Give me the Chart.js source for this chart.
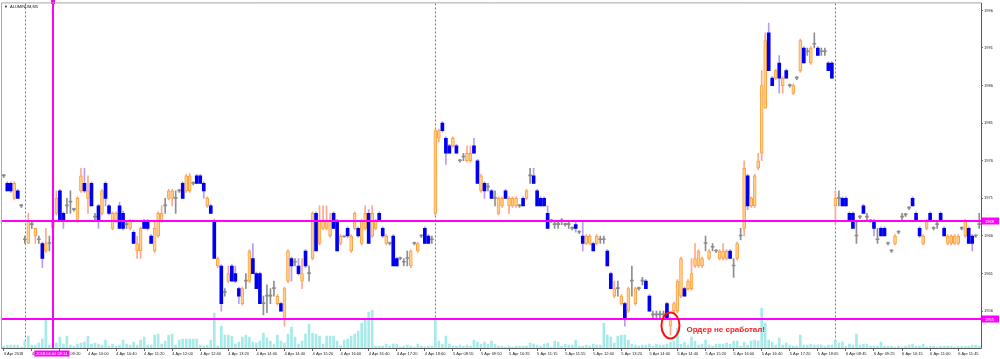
<!DOCTYPE html>
<html>
<head>
<meta charset="utf-8">
<title>ALUMINUM,M5</title>
<script src="https://cdn.jsdelivr.net/npm/chart.js@4/dist/chart.umd.min.js"></script>
<style>
  html, body { margin: 0; padding: 0; background: #fff; }
  #wrap { width: 1000px; height: 359px; position: relative; }
</style>
</head>
<body>
<div id="wrap"><canvas id="chart"></canvas></div>
<script>
// M5 candles (one entry per bar)
const opens = [
  1974, 1973, 1973, 1971, 1972, 1970, 1965.5, 1965, 1967.5, 1966,
  1965.5, 1965, 1964, 1965, 1967, 1969, 1972, 1969, 1970, 1970.5,
  1969.5, 1968, 1972, 1973, 1971, 1973, 1968.5, 1970, 1969, 1973,
  1970, 1967, 1968, 1970, 1969, 1967.5, 1967, 1966.5, 1964, 1964,
  1968, 1968, 1966, 1964, 1966, 1968, 1970, 1971, 1971, 1971,
  1972, 1973, 1972, 1972, 1973, 1974, 1974, 1973, 1970, 1970,
  1968, 1962, 1962, 1958.5, 1960, 1962, 1961, 1959, 1957, 1960,
  1960, 1963, 1961, 1961, 1957, 1958, 1958, 1959, 1957, 1957,
  1955, 1960, 1963, 1962.5, 1962, 1960, 1964, 1961, 1963, 1969,
  1965, 1967, 1967, 1966, 1969, 1968, 1965, 1965.9, 1967, 1964,
  1967, 1967, 1965, 1967, 1969, 1966, 1967, 1969, 1967, 1965,
  1965, 1966, 1963, 1963, 1962.5, 1963, 1962, 1965, 1964, 1966,
  1967, 1966, 1965.5, 1969, 1979, 1981, 1979, 1978, 1978, 1978,
  1976, 1976.5, 1976, 1976, 1978, 1976, 1972, 1973, 1972.5, 1972,
  1971, 1969, 1970, 1972, 1970, 1970, 1970, 1970, 1971, 1971,
  1974, 1974, 1972, 1971, 1971, 1969, 1968, 1967.5, 1967.5, 1968,
  1967.5, 1967.5, 1967, 1967.5, 1966.5, 1966, 1965, 1965, 1965, 1965,
  1965.5, 1965.5, 1964, 1961, 1958, 1959, 1957, 1957, 1956, 1960,
  1957, 1959, 1960, 1960, 1958, 1955.5, 1955.5, 1955.5, 1955.5, 1957,
  1954, 1956, 1956, 1958, 1959, 1959, 1959, 1962, 1962, 1962,
  1965, 1963, 1964.5, 1964, 1963, 1963, 1963, 1964, 1962, 1963,
  1966, 1967, 1974, 1970, 1970, 1975, 1977, 1983, 1993, 1987,
  1987, 1989, 1986, 1988, 1986, 1985, 1987, 1988, 1991, 1990.5,
  1989, 1991.5, 1991, 1990.5, 1990.5, 1989, 1989, 1970, 1971, 1971,
  1971, 1969, 1969, 1966, 1968.5, 1970, 1968.5, 1968, 1968, 1965.5,
  1967, 1967, 1965, 1964, 1965, 1966.5, 1968.5, 1968.8, 1969.7, 1971,
  1969, 1967, 1965, 1967, 1969, 1967, 1967.5, 1969, 1967, 1965,
  1965, 1965, 1965, 1967, 1966, 1967, 1966, 1966, 1967.5
];
const highs = [
  1974.2, 1973.2, 1973.2, 1973.2, 1972.2, 1970.2, 1966, 1969, 1968, 1967,
  1966, 1965.2, 1967, 1966, 1969, 1972, 1972.2, 1969.2, 1971, 1972,
  1969.7, 1971.2, 1975, 1975, 1974, 1973.2, 1969, 1970.2, 1972.2, 1973.2,
  1970.2, 1969.2, 1969.2, 1970.5, 1969.3, 1968, 1968.2, 1966.7, 1966, 1967.2,
  1968.2, 1968.2, 1966.2, 1968, 1969.2, 1970, 1971, 1972.2, 1972.2, 1972,
  1972.2, 1973.2, 1974.2, 1974.3, 1973.2, 1974.2, 1974.2, 1973.2, 1971.2, 1970.2,
  1968.2, 1963.2, 1962.2, 1959, 1962, 1962.2, 1962, 1959.2, 1959.2, 1961,
  1964.2, 1965, 1961.2, 1961.2, 1958, 1959.5, 1959, 1960, 1958.2, 1957.2,
  1959.2, 1964.2, 1963.2, 1963, 1963, 1963, 1964.2, 1962, 1969.2, 1969.2,
  1970, 1970, 1970, 1969, 1969.2, 1968.2, 1966.2, 1966, 1967.2, 1966.2,
  1969.2, 1967.2, 1968.2, 1970, 1969.5, 1970, 1968.2, 1969.2, 1967.2, 1966.2,
  1965.2, 1966.2, 1963.2, 1963.2, 1963, 1964, 1964.2, 1965.2, 1965.2, 1966.2,
  1967.2, 1966.2, 1966, 1980.2, 1980.2, 1981.2, 1979.2, 1978.2, 1979.2, 1978.2,
  1976.2, 1977, 1978, 1978, 1979, 1976.2, 1974.2, 1973.2, 1973, 1972.2,
  1972, 1971.2, 1971.2, 1972.2, 1971.2, 1971.2, 1971.2, 1970.2, 1971.2, 1972.2,
  1975, 1975, 1972.2, 1971.2, 1971.2, 1970, 1968.2, 1968, 1968, 1968.3,
  1967.7, 1968, 1967.2, 1968, 1966.7, 1968, 1966.2, 1966.2, 1965.2, 1966.2,
  1966, 1966, 1964.2, 1961.2, 1960, 1960, 1958.2, 1957.2, 1959.2, 1962,
  1959.2, 1959.2, 1960.5, 1960.2, 1958.2, 1956, 1956, 1956, 1956, 1957.2,
  1955.2, 1957.2, 1960.2, 1963.2, 1959.2, 1960.2, 1963, 1965, 1964.2, 1963.2,
  1966, 1964.2, 1965, 1964.2, 1964.2, 1965, 1964.2, 1964.2, 1963, 1965.2,
  1967, 1976, 1974.2, 1971.2, 1974.2, 1977, 1988, 1993, 1994.3, 1987.2,
  1988.2, 1990, 1987.2, 1988.2, 1986.2, 1986.2, 1987.2, 1992.2, 1991.2, 1991,
  1991.2, 1993, 1991.2, 1991, 1991, 1989.2, 1989.2, 1972, 1972, 1971.2,
  1971.2, 1969.2, 1969.2, 1968, 1968.7, 1970.2, 1969, 1968.2, 1968.2, 1967,
  1967.2, 1967.2, 1965.2, 1964.2, 1966.2, 1966.7, 1969, 1969, 1969.9, 1971.2,
  1969.2, 1967.2, 1966.2, 1968.2, 1969.2, 1967.2, 1968, 1969.2, 1967.2, 1966.2,
  1966.2, 1966.2, 1966.2, 1967.2, 1968.2, 1967.2, 1966.2, 1966.2, 1969
];
const lows = [
  1973.8, 1972, 1971.8, 1970.8, 1971, 1969.8, 1965, 1965, 1967, 1965,
  1965, 1961.8, 1963.8, 1964, 1966.8, 1968.8, 1968, 1967, 1969, 1969,
  1969.3, 1967.8, 1971.8, 1971.8, 1969, 1970, 1968, 1967, 1968.8, 1970,
  1968.8, 1966.8, 1967.8, 1967, 1966.8, 1967, 1966.8, 1965, 1963, 1963,
  1967, 1966.8, 1965, 1963.8, 1965.8, 1967.8, 1969, 1970.8, 1970, 1969,
  1971.8, 1971, 1971.8, 1971.8, 1972.8, 1973, 1973, 1971, 1969.8, 1969,
  1963, 1961.8, 1956, 1958, 1959.8, 1960, 1959.8, 1957, 1956.8, 1959,
  1959.8, 1961, 1959, 1957, 1955.5, 1955.8, 1957, 1958, 1956.8, 1956,
  1954, 1959.8, 1960, 1962, 1960.8, 1959, 1961.8, 1960, 1962.8, 1964,
  1964.8, 1966.8, 1966.8, 1965.8, 1967, 1964, 1964.8, 1965.8, 1965.8, 1963.8,
  1966.8, 1965.8, 1964.8, 1966.8, 1965, 1965.8, 1966.8, 1968, 1965.8, 1964.8,
  1964.8, 1962, 1962, 1962.8, 1962, 1962, 1961.8, 1964.8, 1963.8, 1965.8,
  1965, 1965, 1965, 1968.8, 1978.5, 1979.8, 1975.5, 1977, 1977.8, 1977,
  1975.8, 1976, 1975.8, 1975.8, 1977, 1973, 1971.8, 1971, 1972, 1971,
  1970, 1968.8, 1969.8, 1971, 1969, 1969.8, 1969.8, 1969.8, 1970, 1970.8,
  1973, 1973, 1970, 1970, 1970, 1967, 1967.8, 1967, 1967, 1967.5,
  1967.3, 1967, 1966.8, 1966.5, 1966.3, 1964, 1964.8, 1964.8, 1964, 1964.8,
  1965, 1965, 1962, 1959, 1957.8, 1958, 1956.8, 1954, 1955.8, 1958,
  1956.8, 1958.8, 1959.5, 1959, 1956, 1955, 1955, 1955, 1955, 1955,
  1952.8, 1955.8, 1955.8, 1957.8, 1958, 1958.8, 1958.8, 1961.8, 1961.8, 1961.8,
  1964, 1962.8, 1964, 1963.8, 1962.8, 1962.8, 1962.8, 1963, 1960.5, 1962.8,
  1965.5, 1966, 1969.5, 1969.8, 1969.8, 1974.8, 1976, 1983, 1988, 1986,
  1986.8, 1985, 1985, 1987, 1985.8, 1984.8, 1986.8, 1987.8, 1989, 1990,
  1988.8, 1991, 1990, 1990, 1990, 1988, 1987, 1967.5, 1970, 1970,
  1970, 1968, 1967, 1965, 1968.3, 1969, 1968, 1967.8, 1966, 1965,
  1966, 1966, 1964.8, 1963.8, 1964.8, 1966.3, 1968, 1968.6, 1969.5, 1970,
  1968, 1965.8, 1964.8, 1966.8, 1968, 1966.8, 1967, 1968, 1966, 1964.8,
  1964.8, 1964.8, 1964.8, 1966.8, 1965.8, 1965, 1964, 1965.8, 1967
];
const closes = [
  1974, 1972, 1972, 1973, 1971, 1970, 1965.5, 1968, 1967.5, 1967,
  1965.5, 1963, 1965, 1965, 1968, 1971, 1968, 1968, 1970, 1970.5,
  1969.5, 1971, 1974, 1972, 1972, 1970, 1968.5, 1968, 1972, 1971,
  1969, 1969, 1969, 1967, 1967, 1967.5, 1968, 1965, 1965, 1967,
  1967, 1967, 1965, 1967, 1969, 1969, 1970, 1972, 1972, 1971,
  1972, 1971, 1974, 1974, 1973, 1973, 1973, 1972, 1971, 1969,
  1963, 1963, 1957, 1958.5, 1961, 1960, 1960, 1958, 1959, 1960,
  1964, 1961, 1959, 1957, 1957, 1958, 1958, 1959, 1958, 1956,
  1959, 1964, 1962, 1962.5, 1961, 1961, 1962, 1961, 1969, 1964,
  1968, 1968, 1968, 1968, 1967, 1964, 1966, 1965.9, 1966, 1966,
  1969, 1966, 1968, 1969, 1965, 1969, 1968, 1968, 1966, 1966,
  1965, 1962, 1962, 1963, 1962.5, 1963, 1964, 1965, 1965, 1966,
  1965, 1965, 1965.5, 1980, 1980, 1980, 1977, 1977, 1979, 1977,
  1976, 1976.5, 1977, 1977, 1977, 1973, 1974, 1972, 1972.5, 1971,
  1971, 1971, 1971, 1971, 1971, 1971, 1971, 1970, 1970, 1972,
  1974, 1973, 1970, 1970, 1970, 1967, 1968, 1967.5, 1967.5, 1968,
  1967.5, 1967.5, 1967, 1967, 1966.5, 1965, 1966, 1966, 1964, 1966,
  1965.5, 1965.5, 1962, 1959, 1959, 1959, 1958, 1955, 1959, 1960,
  1959, 1959, 1960, 1959, 1956, 1955.5, 1955.5, 1955.5, 1955.5, 1955,
  1955, 1957, 1960, 1963, 1958, 1960, 1961, 1963, 1964, 1963,
  1965, 1964, 1964.5, 1964, 1964, 1964, 1964, 1963, 1962, 1965,
  1966, 1975, 1970, 1971, 1974, 1976, 1986, 1992, 1988, 1986,
  1988, 1987, 1987, 1987, 1986, 1986, 1987, 1992, 1989, 1990.5,
  1991, 1991.5, 1990, 1990.5, 1990.5, 1988, 1987, 1971, 1971, 1970,
  1970, 1968, 1967, 1966, 1968.5, 1969, 1968.5, 1968, 1967, 1965.5,
  1966, 1966, 1965, 1964, 1966, 1966.5, 1968.5, 1968.8, 1969.7, 1970,
  1968, 1966, 1966, 1968, 1968, 1967, 1967.5, 1968, 1966, 1966,
  1966, 1966, 1966, 1967, 1968, 1965, 1965, 1966, 1967.5
];
// tick volume per bar
const volumes = [
  2, 3, 3, 3, 3, 1, 7, 12, 3, 3, 5, 9, 30, 3, 5, 5, 11, 4, 12, 3,
  2, 4, 5, 6, 12, 4, 5, 4, 3, 8, 2, 4, 2, 3, 8, 4, 3, 6, 3, 8,
  11, 3, 3, 13, 14, 4, 7, 13, 14, 3, 8, 9, 9, 9, 9, 9, 3, 2, 3, 8,
  35, 2, 22, 13, 13, 12, 4, 6, 11, 13, 11, 6, 5, 7, 15, 10, 7, 4, 13, 7,
  5, 14, 21, 11, 4, 7, 14, 24, 15, 14, 12, 4, 12, 12, 12, 7, 2, 8, 9, 12,
  14, 17, 25, 30, 36, 38, 2, 2, 2, 4, 2, 4, 4, 1, 2, 3, 2, 1, 4, 2,
  1, 2, 2, 30, 7, 4, 12, 4, 2, 2, 3, 2, 3, 2, 8, 6, 4, 6, 4, 7,
  4, 2, 2, 1, 2, 1, 2, 2, 2, 2, 5, 4, 3, 2, 4, 5, 1, 7, 6, 2,
  4, 3, 3, 8, 2, 2, 3, 2, 4, 3, 3, 25, 13, 11, 5, 12, 13, 13, 8, 4,
  3, 2, 3, 3, 4, 2, 4, 3, 3, 4, 6, 7, 20, 4, 6, 3, 11, 7, 3, 4,
  8, 3, 2, 4, 4, 4, 5, 4, 7, 7, 2, 6, 3, 7, 8, 7, 40, 25, 8, 6,
  3, 10, 3, 5, 3, 2, 2, 13, 3, 3, 4, 3, 3, 3, 2, 3, 3, 8, 5, 6,
  2, 4, 3, 14, 3, 4, 4, 2, 2, 2, 6, 2, 2, 2, 1, 2, 1, 2, 3, 4,
  2, 2, 4, 1, 2, 2, 1, 2, 2, 2, 2, 1, 2, 2, 2, 2, 3, 3, 2
];
// one time label every 8 bars
const timeLabels = [
  '3 Apr 2018', '4 Apr 08:40', '4 Apr 09:20', '4 Apr 10:00', '4 Apr 10:40',
  '4 Apr 11:20', '4 Apr 12:00', '4 Apr 12:40', '4 Apr 13:20', '4 Apr 14:00',
  '4 Apr 14:40', '4 Apr 15:20', '4 Apr 16:00', '4 Apr 16:40', '4 Apr 17:20',
  '4 Apr 18:00', '5 Apr 08:55', '5 Apr 09:50', '5 Apr 10:35', '5 Apr 11:15',
  '5 Apr 11:55', '5 Apr 12:40', '5 Apr 13:20', '5 Apr 14:00', '5 Apr 14:40',
  '5 Apr 15:20', '5 Apr 16:00', '5 Apr 16:40', '5 Apr 17:20', '5 Apr 18:05',
  '6 Apr 08:45', '6 Apr 09:25', '6 Apr 10:15', '6 Apr 11:00', '6 Apr 11:45'
];
const priceTicks = [1956, 1961, 1966, 1971, 1976, 1981, 1986, 1991, 1996];
const levels = [1968, 1955];           // horizontal lines
const dayStarts = [6, 123, 237];       // first bar of each new day
const markerBar = 14;                  // vertical line bar
const markerText = '2018.04.04 09:14';
const noteBar = 190;
const notePrice = 1954.1;
const noteText = 'Ордер не сработал!';
const symbolText = 'ALUMINUM,M5';

const LABEL_EVERY = 8;
const MAGENTA = '#ff00ff';
const FONT = 'Liberation Sans';

const categories = opens.map((_, i) =>
  i % LABEL_EVERY === 0 ? (timeLabels[i / LABEL_EVERY] || '') : ''
);

// candle direction: 1 up, -1 down, 0 doji
const dir = opens.map((o, i) => Math.sign(closes[i] - o));
const wickColors = dir.map((d) => (d > 0 ? '#ffa88e' : d < 0 ? '#b99cf2' : '#8e8e8e'));
const bodyFill = dir.map((d) => (d > 0 ? '#ffd28f' : d < 0 ? '#0000f0' : '#8a8a8a'));
const bodyLine = dir.map((d) => (d > 0 ? '#ffa03c' : d < 0 ? '#0000f0' : '#8a8a8a'));

const overlays = {
  id: 'overlays',
  beforeDraw(chart) {
    const { ctx, width, height } = chart;
    ctx.save();
    ctx.fillStyle = '#ffffff';
    ctx.fillRect(0, 0, width, height);
    ctx.restore();
  },
  beforeDatasetsDraw(chart) {
    const { ctx, chartArea: a, scales: { x } } = chart;
    ctx.save();
    ctx.strokeStyle = '#7c7c7c';
    ctx.lineWidth = 1;
    ctx.setLineDash([2, 2]);
    dayStarts.forEach((i) => {
      const px = Math.round(x.getPixelForValue(i)) + 0.5;
      ctx.beginPath();
      ctx.moveTo(px, a.top);
      ctx.lineTo(px, a.bottom);
      ctx.stroke();
    });
    ctx.restore();
  },
  afterDatasetsDraw(chart) {
    const { ctx, chartArea: a, scales: { x, y } } = chart;
    ctx.save();
    // horizontal levels
    ctx.strokeStyle = MAGENTA;
    ctx.lineWidth = 2;
    levels.forEach((lv) => {
      const py = Math.round(y.getPixelForValue(lv));
      ctx.beginPath();
      ctx.moveTo(a.left, py);
      ctx.lineTo(a.right, py);
      ctx.stroke();
    });
    // vertical marker
    const mx = Math.round(x.getPixelForValue(markerBar));
    ctx.beginPath();
    ctx.moveTo(mx, 0);
    ctx.lineTo(mx, a.bottom);
    ctx.stroke();
    ctx.fillStyle = MAGENTA;
    ctx.fillRect(mx - 2, 0, 4, 4);
    // note ellipse + text
    const cx = x.getPixelForValue(noteBar);
    const cy = y.getPixelForValue(notePrice);
    ctx.strokeStyle = '#ff1010';
    ctx.lineWidth = 2;
    ctx.beginPath();
    ctx.ellipse(cx, cy, 9, 13, 0, 0, Math.PI * 2);
    ctx.stroke();
    ctx.fillStyle = '#ff1a1a';
    ctx.font = `bold 8px "${FONT}"`;
    ctx.textBaseline = 'middle';
    ctx.textAlign = 'left';
    ctx.fillText(noteText, cx + 16, cy + 4.5);
    ctx.restore();
  },
  afterDraw(chart) {
    const { ctx, chartArea: a, scales: { x, y } } = chart;
    ctx.save();
    // frame
    ctx.strokeStyle = '#a8a8a8';
    ctx.lineWidth = 1;
    ctx.beginPath();
    ctx.moveTo(a.left - 0.5, a.bottom + 0.5);
    ctx.lineTo(a.left - 0.5, a.top - 0.5);
    ctx.lineTo(a.right + 0.5, a.top - 0.5);
    ctx.stroke();
    ctx.strokeStyle = '#5a5a5a';
    ctx.beginPath();
    ctx.moveTo(a.left - 0.5, a.bottom + 0.5);
    ctx.lineTo(a.right + 0.5, a.bottom + 0.5);
    ctx.lineTo(a.right + 0.5, a.top - 0.5);
    ctx.stroke();
    // level boxes on the price axis
    ctx.font = `4px "${FONT}"`;
    ctx.textBaseline = 'middle';
    levels.forEach((lv) => {
      const py = Math.round(y.getPixelForValue(lv));
      ctx.fillStyle = MAGENTA;
      ctx.fillRect(a.right + 1, py - 3.5, chart.width - a.right - 2, 7);
      ctx.fillStyle = '#ffffff';
      ctx.textAlign = 'left';
      ctx.fillText(String(lv), a.right + 4, py + 0.5);
    });
    // marker time box on the time axis
    const mx = x.getPixelForValue(markerBar);
    const tw = ctx.measureText(markerText).width + 4;
    ctx.fillStyle = MAGENTA;
    ctx.fillRect(mx - tw / 2 - 1, a.bottom + 2.5, tw, 6);
    ctx.fillStyle = '#ffffff';
    ctx.textAlign = 'center';
    ctx.fillText(markerText, mx - 1, a.bottom + 5.7);
    // symbol title
    ctx.fillStyle = '#111111';
    ctx.textAlign = 'left';
    ctx.font = `4px "${FONT}"`;
    ctx.fillText('\u25BC', a.left + 2, a.top + 3);
    ctx.font = `4px "${FONT}"`;
    ctx.fillText(symbolText, a.left + 8, a.top + 3);
    ctx.restore();
  }
};

new Chart(document.getElementById('chart'), {
  data: {
    labels: categories,
    datasets: [
      {
        type: 'bar',
        label: 'Volume',
        data: volumes,
        yAxisID: 'yv',
        backgroundColor: '#a6eaea',
        barThickness: 2,
        grouped: false,
        order: 3
      },
      {
        type: 'bar',
        label: 'Range',
        data: lows.map((l, i) => [l, highs[i]]),
        yAxisID: 'y',
        backgroundColor: wickColors,
        barThickness: 1,
        grouped: false,
        order: 2
      },
      {
        type: 'bar',
        label: 'Body',
        data: opens.map((o, i) => [o, closes[i]]),
        yAxisID: 'y',
        backgroundColor: bodyFill,
        borderColor: bodyLine,
        borderWidth: dir.map((d) => (d > 0 ? 1 : 0)),
        borderSkipped: false,
        barThickness: 3,
        minBarLength: 1,
        grouped: false,
        order: 1
      }
    ]
  },
  options: {
    responsive: true,
    maintainAspectRatio: false,
    animation: false,
    devicePixelRatio: 1,
    layout: { padding: { left: 2, top: 2, right: 0, bottom: 0 } },
    plugins: { legend: { display: false }, tooltip: { enabled: false } },
    scales: {
      x: {
        type: 'category',
        offset: true,
        border: { display: false },
        grid: {
          offset: false,
          drawOnChartArea: false,
          tickLength: 3,
          color: (c) => (c.index % LABEL_EVERY === 0 ? '#6a6a6a' : 'rgba(0,0,0,0)')
        },
        ticks: {
          autoSkip: false,
          maxRotation: 0,
          minRotation: 0,
          align: 'start',
          padding: 0,
          color: '#202020',
          font: { family: FONT, size: 4 }
        },
        afterFit: (s) => { s.height = 11; }
      },
      y: {
        position: 'right',
        min: 1951.1,
        max: 1996.93,
        border: { display: false },
        afterBuildTicks: (s) => { s.ticks = priceTicks.map((v) => ({ value: v })); },
        grid: { drawOnChartArea: false, tickLength: 2, color: '#6a6a6a' },
        ticks: {
          padding: 1,
          color: '#202020',
          font: { family: FONT, size: 4 },
          callback: (v) => String(v)
        },
        afterFit: (s) => { s.width = 19; }
      },
      yv: { display: false, min: 0, max: 346 }
    }
  },
  plugins: [overlays]
});
</script>
</body>
</html>
